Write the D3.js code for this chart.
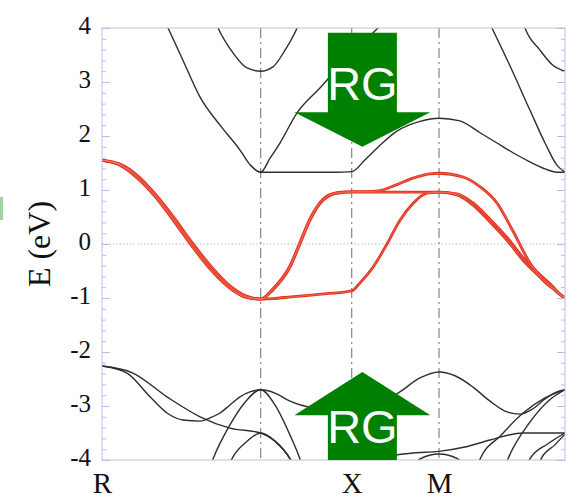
<!DOCTYPE html>
<html>
<head>
<meta charset="utf-8">
<script src="https://cdn.jsdelivr.net/npm/d3@7"></script>
<style>
  html, body { margin: 0; padding: 0; background: #fff; }
  svg { display: block; }
</style>
</head>
<body>
<svg id="chart" width="568" height="501"></svg>
<script>
// k-path positions of the high-symmetry points R, Γ, X, M, Γ
const symPoints = [0, 0.882, 1.388, 1.873, 2.573];
// labelled points along the bottom
const kLabelPos = [0, 1.388, 1.873];
const kLabelText = ["R", "X", "M"];
// energy axis
const energyTicks = [4, 3, 2, 1, 0, -1, -2, -3, -4];

// --- bands near the gap (red), [k, E(eV)] ---
const red1 = [
  [0, 1.55], [0.1, 1.47], [0.2, 1.23], [0.3, 0.88], [0.4, 0.45], [0.5, -0.01],
  [0.6, -0.43], [0.7, -0.77], [0.8, -0.98], [0.882, -1.02],
  [0.95, -1.01], [1.05, -0.98], [1.15, -0.95], [1.25, -0.92], [1.388, -0.87],
  [1.434, -0.72], [1.506, -0.43], [1.584, 0.0], [1.656, 0.44], [1.728, 0.75],
  [1.806, 0.94], [1.873, 0.96],
  [1.973, 0.91], [2.062, 0.72], [2.156, 0.41], [2.251, 0.07], [2.34, -0.30],
  [2.434, -0.61], [2.506, -0.82], [2.545, -0.94], [2.573, -1.0]
];
const red2 = [
  [0, 1.55], [0.1, 1.48], [0.2, 1.26], [0.3, 0.91], [0.4, 0.49], [0.5, 0.03],
  [0.6, -0.39], [0.7, -0.74], [0.8, -0.96], [0.882, -1.02],
  [0.95, -0.85], [1.045, -0.43], [1.1, 0.0], [1.156, 0.44], [1.228, 0.81],
  [1.306, 0.94], [1.388, 0.96],
  [1.5, 0.96], [1.65, 0.96], [1.873, 0.96],
  [1.973, 0.93], [2.062, 0.76], [2.156, 0.46], [2.251, 0.12], [2.34, -0.25],
  [2.434, -0.57], [2.506, -0.79], [2.545, -0.93], [2.573, -1.0]
];
const red3 = [
  [0, 1.55], [0.1, 1.46], [0.2, 1.21], [0.3, 0.86], [0.4, 0.42], [0.5, -0.04],
  [0.6, -0.46], [0.7, -0.79], [0.8, -0.99], [0.882, -1.02],
  [0.95, -0.83], [1.045, -0.40], [1.1, 0.03], [1.156, 0.47], [1.228, 0.83],
  [1.306, 0.95], [1.388, 0.97],
  [1.462, 0.97], [1.545, 0.99], [1.639, 1.10], [1.728, 1.22], [1.823, 1.30], [1.873, 1.31],
  [2.006, 1.24], [2.101, 1.06], [2.195, 0.76], [2.284, 0.24], [2.378, -0.35],
  [2.451, -0.67], [2.528, -0.88], [2.573, -1.0]
];

// --- conduction bands (black) ---
const cond1 = [
  [0.267, 4.7], [0.367, 4.0], [0.461, 3.32], [0.545, 2.72], [0.656, 2.2], [0.767, 1.74],
  [0.822, 1.47], [0.882, 1.33],
  [1.0, 1.33], [1.15, 1.33], [1.3, 1.33], [1.388, 1.34],
  [1.462, 1.56], [1.545, 1.83], [1.639, 2.09], [1.767, 2.27], [1.873, 2.33],
  [1.989, 2.28], [2.101, 2.06], [2.195, 1.87], [2.284, 1.69], [2.378, 1.52],
  [2.462, 1.39], [2.528, 1.33], [2.573, 1.33]
];
const cond2a = [
  [0.822, 1.47], [0.882, 1.33], [0.934, 1.59], [0.989, 1.87], [1.084, 2.43], [1.211, 2.89],
  [1.323, 3.30], [1.434, 3.67], [1.534, 4.0], [1.656, 4.37]
];
const cond2b = [
  [2.101, 4.45], [2.167, 4.0], [2.267, 3.3], [2.378, 2.48], [2.462, 1.87], [2.528, 1.46], [2.573, 1.33]
];
const cond3a = [
  [0.572, 4.67], [0.645, 4.0], [0.728, 3.54], [0.806, 3.26], [0.882, 3.2],
  [0.95, 3.28], [1.017, 3.59], [1.084, 4.0], [1.128, 4.4]
];
const cond3b = [
  [2.30, 4.6], [2.351, 4.0], [2.434, 3.59], [2.506, 3.31], [2.573, 3.2]
];

// --- deeper valence bands (black) ---
const val1 = [
  [0, -2.26], [0.139, -2.39], [0.267, -2.83], [0.361, -3.13], [0.45, -3.26], [0.545, -3.28],
  [0.6, -3.22], [0.656, -3.13], [0.711, -2.98], [0.767, -2.83], [0.822, -2.74], [0.882, -2.70],
  [0.961, -2.76], [1.045, -2.91], [1.156, -3.02], [1.388, -3.07], [1.517, -2.96], [1.645, -2.76],
  [1.767, -2.48], [1.873, -2.37],
  [1.962, -2.44], [2.062, -2.65], [2.156, -2.91], [2.251, -3.11], [2.323, -3.15], [2.39, -3.06],
  [2.462, -2.87], [2.528, -2.74], [2.573, -2.70]
];
const val2 = [
  [0, -2.26], [0.172, -2.39], [0.361, -2.83], [0.545, -3.20], [0.711, -3.41], [0.882, -3.50],
  [0.961, -3.65], [1.045, -3.98], [1.09, -4.3]
];
const val3a = [
  [0.572, -4.4], [0.617, -3.98], [0.711, -3.35], [0.795, -2.93], [0.882, -2.70],
  [0.961, -2.98], [1.045, -3.54], [1.1, -3.98], [1.14, -4.4]
];
const val3b = [
  [2.06, -4.4], [2.101, -3.98], [2.212, -3.56], [2.34, -3.13], [2.462, -2.85], [2.573, -2.70]
];
const val3c = [
  [2.21, -4.4], [2.256, -3.98], [2.378, -3.30], [2.49, -2.88], [2.573, -2.70]
];
const val4 = [
  [0.684, -4.3], [0.722, -3.98], [0.8, -3.67], [0.882, -3.50], [0.961, -3.65], [1.045, -3.98], [1.09, -4.3]
];
const val5 = [
  [1.6, -3.92], [1.728, -3.87], [1.873, -3.84], [2.017, -3.76], [2.156, -3.63], [2.34, -3.50], [2.573, -3.50]
];
const val6 = [
  [1.70, -4.3], [1.767, -3.98], [1.873, -3.89], [1.978, -3.98], [2.03, -4.3]
];
const val7 = [
  [2.34, -4.4], [2.378, -3.98], [2.478, -3.70], [2.573, -3.50]
];
const val8 = [
  [2.40, -4.4], [2.44, -3.98], [2.517, -3.72], [2.573, -3.52]
];

const redBands = [red1, red2, red3];
const blackBands = [cond1, cond2a, cond2b, cond3a, cond3b,
  val1, val2, val3a, val3b, val3c, val4, val5, val6, val7, val8];

// annotation arrows: centre k and energies of base / neck / tip
const arrowK = 1.447;
const downArrowE = [3.91, 2.44, 1.80];
const upArrowE = [-4.0, -3.17, -2.37];
const arrowText = "RG";

// ---------------------------------------------------------------
(function draw() {
  const svg = d3.select("#chart");
  const mLeft = 102, mRight = 565, mTop = 28, mBottom = 460;

  const x = d3.scaleLinear().domain([0, 2.573]).range([mLeft, mRight]);
  const y = d3.scaleLinear().domain([-4, 4]).range([mBottom, mTop]);

  svg.append("rect").attr("width", 568).attr("height", 501).attr("fill", "#fff");

  // small green marker on the far left
  svg.append("rect").attr("x", 0).attr("y", 197).attr("width", 3).attr("height", 23)
    .attr("fill", "#9fd69f");

  svg.append("defs").append("clipPath").attr("id", "plotClip")
    .append("rect").attr("x", mLeft).attr("y", mTop)
    .attr("width", mRight - mLeft).attr("height", mBottom - mTop);

  const frameColor = "#b9bde3";

  // E = 0 reference line
  svg.append("line")
    .attr("x1", mLeft).attr("x2", mRight).attr("y1", y(0)).attr("y2", y(0))
    .attr("stroke", "#b3bdea").attr("stroke-width", 1).attr("stroke-dasharray", "1.5,2");

  // high-symmetry verticals (interior ones)
  svg.append("g").selectAll("line").data(symPoints.slice(1, 4)).join("line")
    .attr("x1", d => x(d)).attr("x2", d => x(d))
    .attr("y1", mTop).attr("y2", mBottom)
    .attr("stroke", "#6d6d6d").attr("stroke-width", 1)
    .attr("stroke-dasharray", "10,4,2,4");

  const line = d3.line()
    .x(d => x(d[0])).y(d => y(d[1]))
    .curve(d3.curveMonotoneX);

  const bands = svg.append("g").attr("clip-path", "url(#plotClip)");

  bands.selectAll("path.black").data(blackBands).join("path")
    .attr("class", "black")
    .attr("d", line)
    .attr("fill", "none").attr("stroke", "#2e2e2e").attr("stroke-width", 1.4);

  bands.selectAll("path.red").data(redBands).join("path")
    .attr("class", "red")
    .attr("d", line)
    .attr("fill", "none").attr("stroke", "#e2301c").attr("stroke-width", 2.8);

  bands.selectAll("path.redcore").data(redBands).join("path")
    .attr("class", "redcore")
    .attr("d", line)
    .attr("fill", "none").attr("stroke", "#f2826f").attr("stroke-width", 0.6);

  // frame
  svg.append("rect").attr("x", mLeft).attr("y", mTop)
    .attr("width", mRight - mLeft).attr("height", mBottom - mTop)
    .attr("fill", "none").attr("stroke", frameColor).attr("stroke-width", 1);

  // minor and major ticks on both sides, pointing inward
  const minorTicks = d3.range(-4, 4.001, 0.2);
  const styleTicks = g => {
    g.select(".domain").remove();
    g.selectAll(".tick line").attr("stroke", frameColor);
    g.selectAll("text").remove();
  };
  svg.append("g").attr("transform", `translate(${mLeft},0)`)
    .call(d3.axisRight(y).tickValues(minorTicks).tickSize(4)).call(styleTicks);
  svg.append("g").attr("transform", `translate(${mLeft},0)`)
    .call(d3.axisRight(y).tickValues(energyTicks).tickSize(8)).call(styleTicks);
  svg.append("g").attr("transform", `translate(${mRight},0)`)
    .call(d3.axisLeft(y).tickValues(minorTicks).tickSize(4)).call(styleTicks);
  svg.append("g").attr("transform", `translate(${mRight},0)`)
    .call(d3.axisLeft(y).tickValues(energyTicks).tickSize(8)).call(styleTicks);

  const serif = "'Liberation Serif', 'Times New Roman', serif";

  // energy labels
  const yAxis = svg.append("g").attr("transform", `translate(${mLeft},0)`)
    .call(d3.axisLeft(y).tickValues(energyTicks).tickSize(0).tickPadding(11)
      .tickFormat(d => String(d)));
  yAxis.select(".domain").remove();
  yAxis.selectAll("text")
    .attr("dy", "0.2em")
    .attr("fill", "#111")
    .attr("font-family", serif)
    .style("font-family", serif)
    .style("font-size", "25px");

  // k-point labels
  const xAxis = svg.append("g").attr("transform", `translate(0,${mBottom})`)
    .call(d3.axisBottom(x).tickValues(kLabelPos).tickSize(0).tickPadding(0)
      .tickFormat((d, i) => kLabelText[i]));
  xAxis.select(".domain").remove();
  xAxis.selectAll("text")
    .attr("y", 33).attr("dy", 0)
    .attr("fill", "#111")
    .attr("font-family", serif)
    .style("font-family", serif)
    .style("font-size", "29px");

  // axis title
  svg.append("text")
    .attr("transform", `translate(50,${y(0)}) rotate(-90)`)
    .attr("text-anchor", "middle")
    .attr("fill", "#111")
    .style("font-family", serif)
    .style("font-size", "32px")
    .text("E (eV)");

  // arrows
  const shaftHalf = 34.5, headHalf = 68;
  const arrowG = svg.append("g");
  function arrow(es, textBaseline) {
    const cx = x(arrowK);
    const [e0, e1, e2] = es;
    const pts = [
      [cx - shaftHalf, y(e0)], [cx + shaftHalf, y(e0)], [cx + shaftHalf, y(e1)],
      [cx + headHalf, y(e1)], [cx, y(e2)], [cx - headHalf, y(e1)], [cx - shaftHalf, y(e1)]
    ];
    arrowG.append("polygon")
      .attr("points", pts.map(p => p.join(",")).join(" "))
      .attr("fill", "#008000");
    arrowG.append("text")
      .attr("x", cx).attr("y", textBaseline)
      .attr("text-anchor", "middle")
      .attr("fill", "#fff")
      .style("font-family", "'Liberation Sans', Arial, sans-serif")
      .style("font-size", "47px")
      .text(arrowText);
  }
  arrow(downArrowE, 100);
  arrow(upArrowE, 443);
})();
</script>
</body>
</html>
